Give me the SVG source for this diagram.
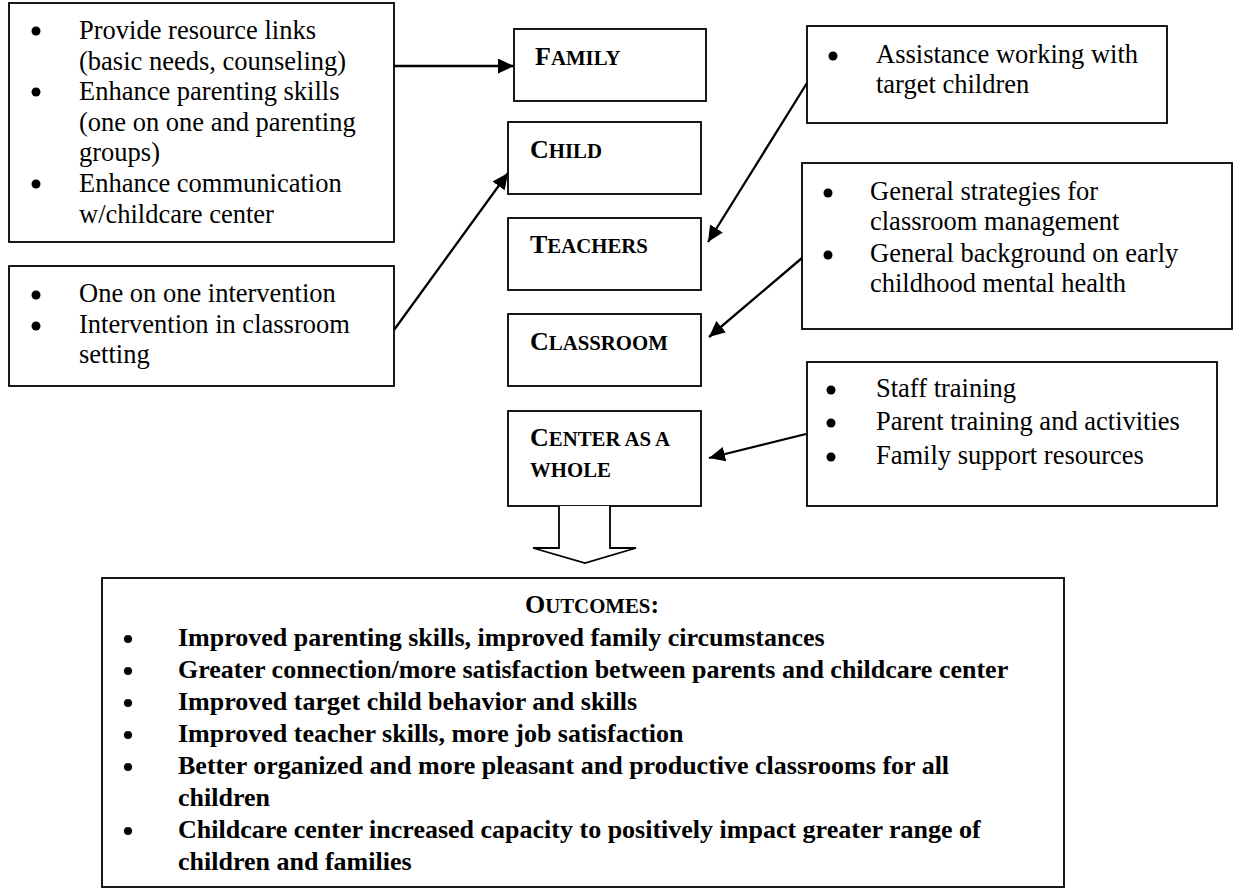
<svg xmlns="http://www.w3.org/2000/svg" width="1235" height="890" viewBox="0 0 1235 890">
<defs>
<style>
.box{fill:#fff;stroke:#000;stroke-width:1.8}
.t{font-family:"Liberation Serif","Times New Roman",serif;font-size:26.5px;fill:#000}
.b{font-family:"Liberation Serif","Times New Roman",serif;font-size:26px;font-weight:bold;fill:#000}
.sc{font-size:20.8px}
.dot{fill:#000}
.conn{stroke:#000;stroke-width:2.3;fill:none}
</style>
<marker id="ah" markerUnits="userSpaceOnUse" markerWidth="17" markerHeight="16" refX="16" refY="7.5" orient="auto">
<path d="M0,0 L16,7.5 L0,15 z" fill="#000"/>
</marker>
</defs>
<rect width="1235" height="890" fill="#fff"/>

<g id="family-supports">
<rect class="box" x="9" y="3" width="385" height="239"/>
<circle class="dot" cx="36" cy="31" r="4.5"/>
<circle class="dot" cx="36" cy="92" r="4.5"/>
<circle class="dot" cx="36" cy="184" r="4.5"/>
<text class="t" x="79" y="39">Provide resource links</text>
<text class="t" x="79" y="70">(basic needs, counseling)</text>
<text class="t" x="79" y="100">Enhance parenting skills</text>
<text class="t" x="79" y="131">(one on one and parenting</text>
<text class="t" x="79" y="161">groups)</text>
<text class="t" x="79" y="192">Enhance communication</text>
<text class="t" x="79" y="223">w/childcare center</text>
</g>

<g id="child-supports">
<rect class="box" x="9" y="266" width="385" height="120"/>
<circle class="dot" cx="36" cy="295" r="4.5"/>
<circle class="dot" cx="36" cy="326" r="4.5"/>
<text class="t" x="79" y="302">One on one intervention</text>
<text class="t" x="79" y="333">Intervention in classroom</text>
<text class="t" x="79" y="363">setting</text>
</g>

<g id="family">
<rect class="box" x="514" y="29" width="192" height="72"/>
<text class="b" x="535" y="65">F<tspan class="sc">AMILY</tspan></text>
</g>

<g id="child">
<rect class="box" x="508" y="122" width="193" height="72"/>
<text class="b" x="530" y="158">C<tspan class="sc">HILD</tspan></text>
</g>

<g id="teachers">
<rect class="box" x="508" y="218" width="193" height="72"/>
<text class="b" x="530" y="253">T<tspan class="sc">EACHERS</tspan></text>
</g>

<g id="classroom">
<rect class="box" x="508" y="314" width="193" height="72"/>
<text class="b" x="530" y="350">C<tspan class="sc">LASSROOM</tspan></text>
</g>

<g id="center">
<rect class="box" x="508" y="411" width="193" height="95"/>
<text class="b" x="530" y="446">C<tspan class="sc">ENTER AS A</tspan></text>
<text class="b" x="530" y="477"><tspan class="sc">WHOLE</tspan></text>
</g>

<g id="teacher-supports">
<rect class="box" x="807" y="26" width="360" height="97"/>
<circle class="dot" cx="833" cy="56" r="4.5"/>
<text class="t" x="876" y="63">Assistance working with</text>
<text class="t" x="876" y="93">target children</text>
</g>

<g id="classroom-supports">
<rect class="box" x="802" y="163" width="430" height="166"/>
<circle class="dot" cx="828" cy="193" r="4.5"/>
<circle class="dot" cx="828" cy="255" r="4.5"/>
<text class="t" x="870" y="200">General strategies for</text>
<text class="t" x="870" y="230">classroom management</text>
<text class="t" x="870" y="262">General background on early</text>
<text class="t" x="870" y="292">childhood mental health</text>
</g>

<g id="center-supports">
<rect class="box" x="807" y="362" width="410" height="144"/>
<circle class="dot" cx="831" cy="390" r="4.5"/>
<circle class="dot" cx="831" cy="423" r="4.5"/>
<circle class="dot" cx="831" cy="457" r="4.5"/>
<text class="t" x="876" y="397">Staff training</text>
<text class="t" x="876" y="430">Parent training and activities</text>
<text class="t" x="876" y="464">Family support resources</text>
</g>

<g id="connectors">
<line class="conn" x1="394" y1="66" x2="514" y2="66" marker-end="url(#ah)"/>
<line class="conn" x1="394" y1="330" x2="508" y2="173" marker-end="url(#ah)"/>
<line class="conn" x1="807" y1="83" x2="708" y2="242" marker-end="url(#ah)"/>
<line class="conn" x1="802" y1="258" x2="709" y2="337" marker-end="url(#ah)"/>
<line class="conn" x1="806" y1="434" x2="709" y2="458" marker-end="url(#ah)"/>
<path d="M559,506 L559,548 L533,548 L585,563 L636,548 L610,548 L610,506" fill="#fff" stroke="#000" stroke-width="1.8" stroke-linejoin="miter"/>
</g>

<g id="outcomes">
<rect class="box" x="102" y="578" width="962" height="309"/>
<text class="b" x="525" y="613">O<tspan class="sc">UTCOMES</tspan>:</text>
<circle class="dot" cx="128" cy="639" r="4"/>
<circle class="dot" cx="128" cy="671" r="4"/>
<circle class="dot" cx="128" cy="703" r="4"/>
<circle class="dot" cx="128" cy="735" r="4"/>
<circle class="dot" cx="128" cy="767" r="4"/>
<circle class="dot" cx="128" cy="831" r="4"/>
<text class="b" x="178" y="646">Improved parenting skills, improved family circumstances</text>
<text class="b" x="178" y="678">Greater connection/more satisfaction between parents and childcare center</text>
<text class="b" x="178" y="710">Improved target child behavior and skills</text>
<text class="b" x="178" y="742">Improved teacher skills, more job satisfaction</text>
<text class="b" x="178" y="774">Better organized and more pleasant and productive classrooms for all</text>
<text class="b" x="178" y="806">children</text>
<text class="b" x="178" y="838">Childcare center increased capacity to positively impact greater range of</text>
<text class="b" x="178" y="870">children and families</text>
</g>
</svg>
